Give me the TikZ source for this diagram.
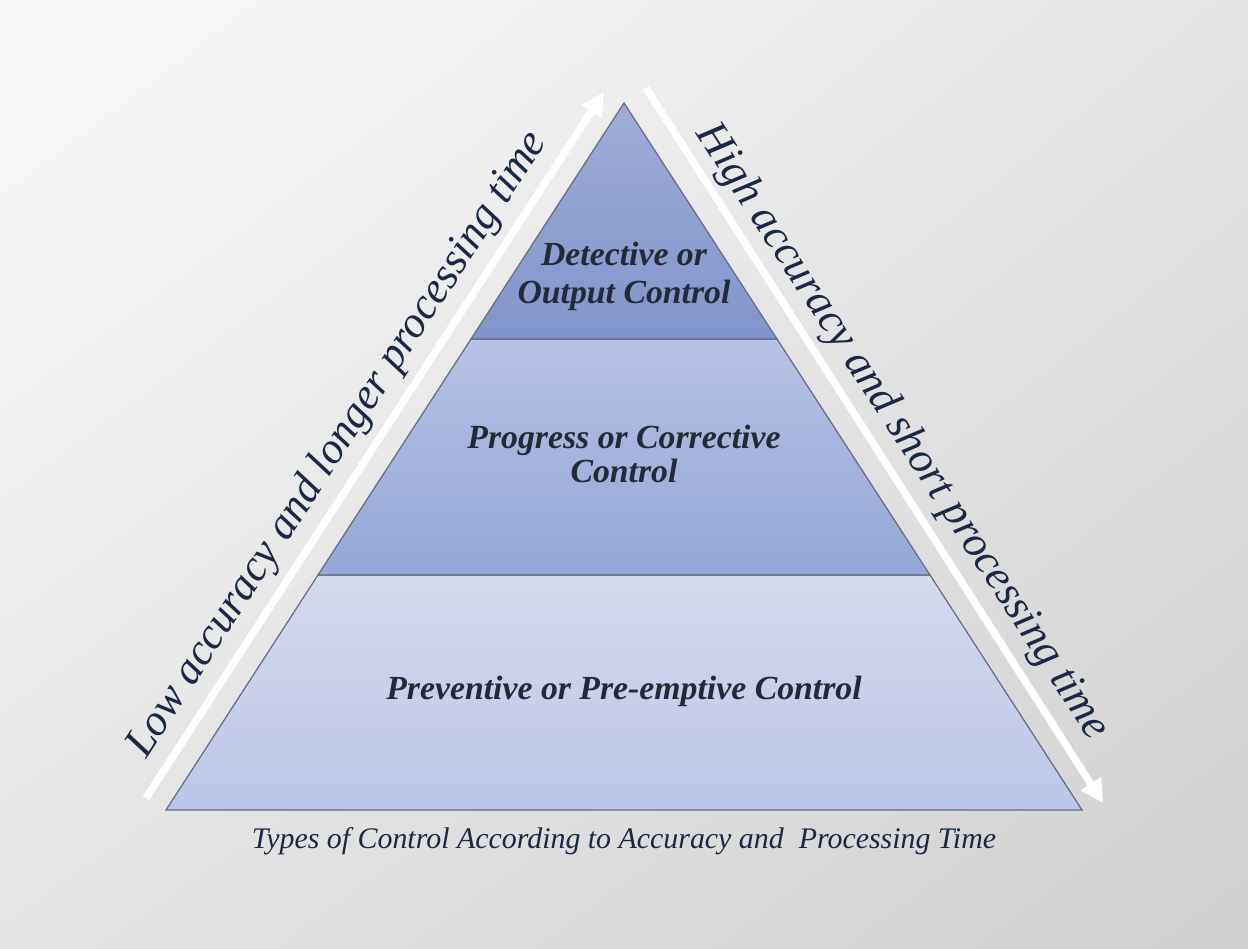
\documentclass[tikz,border=0pt]{standalone}
\usepackage{fontspec}
\setmainfont{Liberation Serif}
\usepackage{tikz}
\usetikzlibrary{arrows.meta, positioning, calc, shadings}
\usepackage{xcolor}
\definecolor{inkblue}{RGB}{27,39,70}
\definecolor{tierink}{RGB}{34,42,56}
\definecolor{edgegray}{RGB}{100,108,130}
\definecolor{toptop}{RGB}{160,173,214}
\definecolor{topbot}{RGB}{128,149,204}
\definecolor{midtop}{RGB}{182,193,227}
\definecolor{midbot}{RGB}{149,167,216}
\definecolor{lowtop}{RGB}{213,218,237}
\definecolor{lowbot}{RGB}{187,197,231}
\definecolor{bglight}{RGB}{250,250,250}
\definecolor{bgmid}{RGB}{228,228,228}
\definecolor{bgdark}{RGB}{208,208,208}

\begin{document}
\begin{tikzpicture}[x=0.01cm, y=-0.01cm,
  tierlabel/.style={font=\bfseries\itshape\fontsize{9.6}{10.8}\selectfont, text=tierink, align=center},
  sidelabel/.style={font=\itshape\fontsize{12.5}{14}\selectfont, text=inkblue},
  whitearrow/.style={white, line width=2.1pt, -{Triangle[length=6.5pt, width=6.5pt]}}]
  % background
  \shade[upper left=bglight, upper right=bgmid, lower left=bgmid, lower right=bgdark] (0,0) rectangle (1248,948);
  \useasboundingbox (0,0) rectangle (1248,948);
  % corners of the pyramid
  \coordinate (apex) at (624,103);
  \coordinate (bl) at (166,810);
  \coordinate (br) at (1082,810);
  \coordinate (l1) at (471,339);
  \coordinate (r1) at (777,339);
  \coordinate (l2) at (318,575);
  \coordinate (r2) at (930,575);
  % tiers
  \shadedraw[top color=lowtop, bottom color=lowbot, draw=edgegray, line width=0.35pt] (l2) -- (r2) -- (br) -- (bl) -- cycle;
  \shadedraw[top color=midtop, bottom color=midbot, draw=edgegray, line width=0.35pt] (l1) -- (r1) -- (r2) -- (l2) -- cycle;
  \shadedraw[top color=toptop, bottom color=topbot, draw=edgegray, line width=0.35pt] (apex) -- (r1) -- (l1) -- cycle;
  \node[tierlabel] (detective) at (624,276) {Detective or\\Output Control};
  \node[tierlabel] (progress) at (624,454) {Progress or Corrective\\[-1.2pt]Control};
  \node[tierlabel] (preventive) at (624,691) {Preventive or Pre-emptive Control};
  % arrows along the sides
  \coordinate (lowstart) at (146,798);
  \coordinate (lowend) at (604,92);
  \coordinate (highstart) at (646,88);
  \coordinate (highend) at (1103,803);
  \draw[whitearrow] (lowstart) -- (lowend);
  \draw[whitearrow] (highstart) -- (highend);
  \node[sidelabel, rotate=57] (lowlabel) at (338,445) {Low accuracy and longer processing time};
  \node[sidelabel, rotate=-57] (highlabel) at (902,432) {High accuracy and short processing time};
  % caption
  \node[font=\itshape\fontsize{8.5}{10}\selectfont, text=inkblue] (caption) at (624,841) {Types of Control According to Accuracy and\ \ Processing Time};
\end{tikzpicture}
\end{document}
